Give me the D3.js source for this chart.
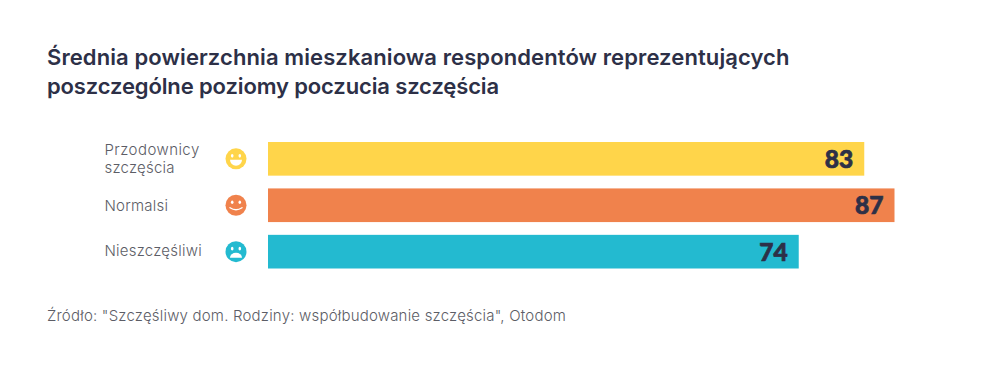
<!DOCTYPE html>
<html>
<head>
<meta charset="utf-8">
<script src="https://cdn.jsdelivr.net/npm/d3@7"></script>
<style>
  html, body { margin: 0; padding: 0; background: #fff; }
  svg { display: block; }
  text { font-family: Inter, sans-serif; }
</style>
</head>
<body>
<div id="chart"></div>
<script>
const categories = ["Przodownicy szczęścia", "Normalsi", "Nieszczęśliwi"]
const categoryLines = [["Przodownicy", "szczęścia"], ["Normalsi"], ["Nieszczęśliwi"]]
// bar lengths, the printed labels are these rounded
const values = [82.8, 87, 73.7]
const colors = ["#ffd54a", "#f0824c", "#23bad0"]
const moods = ["laugh", "smile", "sad"]
const titleLines = [
    "Średnia powierzchnia mieszkaniowa respondentów reprezentujących",
    "poszczególne poziomy poczucia szczęścia"
]
const source = 'Źródło: "Szczęśliwy dom. Rodziny: współbudowanie szczęścia", Otodom'

const darkText = "#2d3047"
const greyText = "#5c5d66"

const svg = d3.select("#chart").append("svg")
    .attr("width", 1000)
    .attr("height", 373)

const x = d3.scaleLinear().domain([0, 87]).range([268, 894.5])
const y = d3.scaleBand().domain(categories).range([142, 268.5]).paddingInner(0.275)
const fmt = d3.format(".0f")

// title, the second line runs a bit tighter than the first
svg.selectAll(".title")
    .data(titleLines)
    .enter()
    .append("text")
    .attr("class", "title")
    .attr("x", 47)
    .attr("y", (d, i) => 64.5 + i * 29)
    .style("font-size", "22px")
    .style("font-weight", 600)
    .style("letter-spacing", (d, i) => i === 0 ? "0.1px" : "-0.13px")
    .style("fill", darkText)
    .text(d => d)

// bars
svg.selectAll(".bar")
    .data(categories)
    .enter()
    .append("rect")
    .attr("class", "bar")
    .attr("x", x(0))
    .attr("y", d => y(d))
    .attr("width", (d, i) => x(values[i]) - x(0))
    .attr("height", y.bandwidth())
    .style("fill", (d, i) => colors[i])

// value labels
svg.selectAll(".value")
    .data(categories)
    .enter()
    .append("text")
    .attr("class", "value")
    .attr("x", (d, i) => x(values[i]) - 11)
    .attr("y", d => y(d) + y.bandwidth() / 2 + 9)
    .attr("text-anchor", "end")
    .style("font-family", "Lato, sans-serif")
    .style("font-size", "24.5px")
    .style("font-weight", 900)
    .style("stroke", darkText)
    .style("stroke-width", 0.7)
    .style("fill", darkText)
    .text((d, i) => fmt(values[i]))

// category labels
const labelOffset = [5, 5.5, 4]
categories.forEach((c, i) => {
    const lines = categoryLines[i]
    const mid = y(c) + y.bandwidth() / 2
    svg.append("text")
        .attr("class", "category")
        .selectAll("tspan")
        .data(lines)
        .enter()
        .append("tspan")
        .attr("x", 104.5)
        .attr("y", (d, j) => mid + labelOffset[i] + (j - (lines.length - 1) / 2) * 18)
        .style("font-size", "15px")
        .style("font-weight", 300)
        .style("letter-spacing", d => d === "Przodownicy" ? "0.45px" : "0.22px")
        .style("fill", greyText)
        .text(d => d)
})

// smiley icons next to the labels
const faces = svg.selectAll(".face")
    .data(categories)
    .enter()
    .append("g")
    .attr("class", "face")
    .attr("transform", d => `translate(236, ${y(d) + y.bandwidth() / 2})`)

faces.append("circle")
    .attr("r", 10.5)
    .style("fill", (d, i) => colors[i])

faces.each(function (d, i) {
    const g = d3.select(this)
    g.selectAll(".eye")
        .data([-3.8, 3.8])
        .enter()
        .append("ellipse")
        .attr("cx", e => e)
        .attr("cy", -3)
        .attr("rx", 1.3)
        .attr("ry", 1.8)
        .style("fill", "#fff")
    if (moods[i] === "laugh") {
        g.append("path")
            .attr("d", "M-6,1 L6,1 A6,6 0 0 1 -6,1 Z")
            .style("fill", "#fff")
    } else if (moods[i] === "smile") {
        g.append("path")
            .attr("d", "M-6,2.5 Q0,6.5 6,2.5")
            .style("fill", "none")
            .style("stroke", "#fff")
            .style("stroke-width", 1.4)
            .style("stroke-linecap", "round")
    } else {
        g.append("path")
            .attr("d", "M-6,6 A6,5 0 0 1 6,6 Z")
            .style("fill", "#fff")
    }
})

// source line
svg.append("text")
    .attr("x", 47)
    .attr("y", 320.5)
    .style("font-size", "15px")
    .style("font-weight", 300)
    .style("letter-spacing", "0.2px")
    .style("fill", greyText)
    .text(source)
</script>
</body>
</html>
